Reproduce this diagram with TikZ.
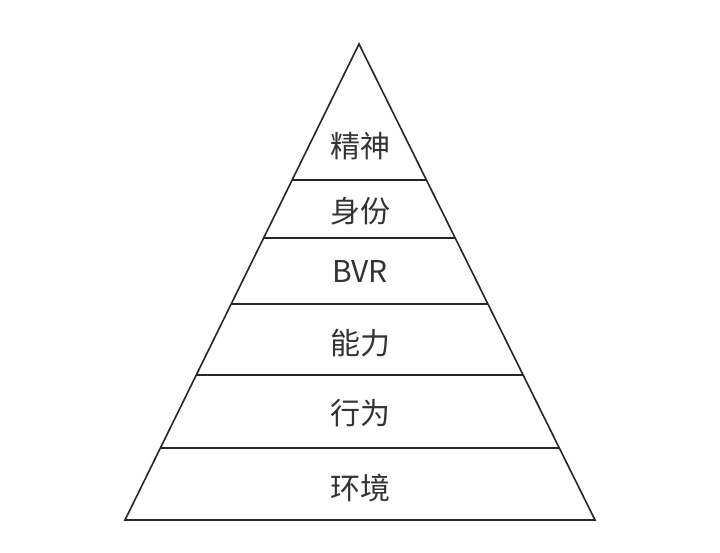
\documentclass[tikz,border=0pt]{standalone}
\usepackage{fontspec}
\setmainfont{Noto Sans CJK SC}
\usetikzlibrary{calc}
\begin{document}
\begin{tikzpicture}[x=1pt,y=-1pt,
  edge/.style={draw=black!85,line width=1.6pt,line join=miter},
  sep/.style={draw=black!85,line width=1.2pt},
  lbl/.style={text=black!80,font=\fontsize{30}{33}\selectfont,inner sep=0pt}]
\useasboundingbox[fill=white] (0,0) rectangle (720,553);
\coordinate (apex) at (359,44);
\coordinate (bl) at (125,520);
\coordinate (br) at (595,520);
\draw[edge] (apex) -- (bl) -- (br) -- cycle;
\foreach \t/\n in {0.2857/a,0.4076/b,0.5462/c,0.6954/d,0.8487/e}{
  \coordinate (l\n) at ($(apex)!\t!(bl)$);
  \coordinate (r\n) at ($(apex)!\t!(br)$);
  \draw[sep] (l\n) -- (r\n);
}
\node[lbl] (n1) at (360,146) {精神};
\node[lbl] (n2) at (360,211) {身份};
\node[lbl] (n3) at (360,272) {BVR};
\node[lbl] (n4) at (360,343) {能力};
\node[lbl] (n5) at (360,413) {行为};
\node[lbl] (n6) at (360,488) {环境};
\end{tikzpicture}
\end{document}
